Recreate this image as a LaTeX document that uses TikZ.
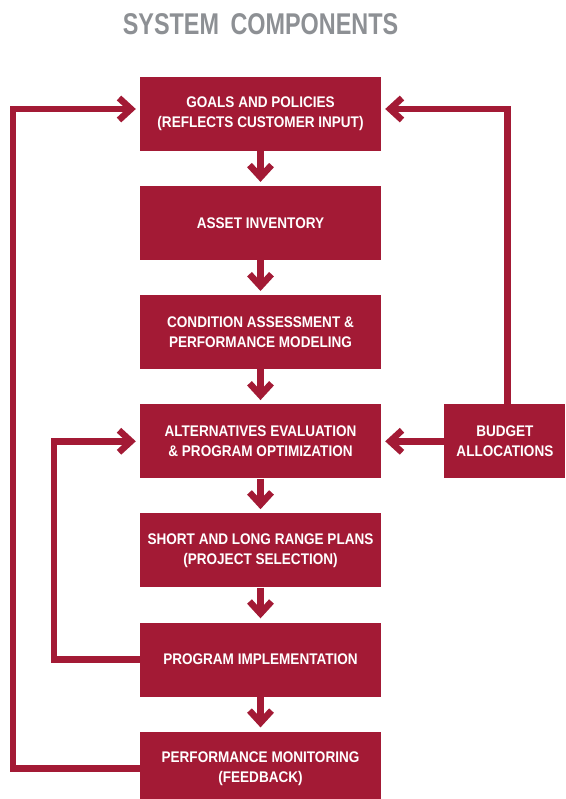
\documentclass[tikz,border=0pt]{standalone}
\usepackage{fontspec}
\usepackage[dvipsnames]{xcolor}
\usetikzlibrary{positioning,arrows.meta}

\newfontfamily\boxfont[FakeStretch=0.88]{Liberation Sans}
\newfontfamily\titlefont[FakeStretch=0.78]{Liberation Sans}
\definecolor{crimson}{HTML}{A31A35}
\definecolor{titlegray}{HTML}{8D9094}

\begin{document}
\begin{tikzpicture}[x=1pt,y=1pt,>={Straight Barb[length=12pt,width=22pt]},node distance=34.7pt,
    comp node/.style={fill=crimson,text=white,minimum width=241pt,minimum height=74pt,inner sep=0pt,align=center,font=\boxfont\bfseries\fontsize{15.4}{20}\selectfont},
    flow/.style={->,draw=crimson,line width=6.5pt,shorten >=4pt}]
            \fill[white] (0,0) rectangle (565,-799);
            \useasboundingbox (0,0) rectangle (565,-799);

            \node[text=titlegray,anchor=base,font=\titlefont\bfseries\fontsize{30}{30}\selectfont] (title) at (260.5,-34.3) {SYSTEM\hspace{5pt} COMPONENTS};

            \node[comp node] (goals) at (260.5,-114) {GOALS AND POLICIES\\(REFLECTS CUSTOMER INPUT)};
            \node[comp node] (inventory) [below=of goals] {ASSET INVENTORY};
            \node[comp node] (condition) [below=of inventory] {CONDITION ASSESSMENT \&\\PERFORMANCE MODELING};
            \node[comp node] (alternatives) [below=of condition] {ALTERNATIVES EVALUATION\\\& PROGRAM OPTIMIZATION};
            \node[comp node] (plans) [below=of alternatives] {SHORT AND LONG RANGE PLANS\\(PROJECT SELECTION)};
            \node[comp node] (implementation) [below=of plans] {PROGRAM IMPLEMENTATION};
            \node[comp node] (monitoring) [below=of implementation] {PERFORMANCE MONITORING\\(FEEDBACK)};
            \node[comp node, minimum width=121pt] (budget) [right=63pt of alternatives] {BUDGET\\ALLOCATIONS};

            % feedback loops enter a bit above the centre of the goals box
            \coordinate (outer) at (13,0);
            \coordinate (inner) at (54,0);
            \coordinate (goals in) at ([yshift=5pt]goals.west);
            \coordinate (goals out) at ([yshift=5pt]goals.east);

            \path[flow]
                (goals) edge (inventory)
                (inventory) edge (condition)
                (condition) edge (alternatives)
                (alternatives) edge (plans)
                (plans) edge (implementation)
                (implementation) edge (monitoring)
                (budget) edge (alternatives)
                ;

            \draw[flow] (monitoring.west) -- (monitoring.west -| outer) |- (goals in);
            \draw[flow] (implementation.west) -- (implementation.west -| inner) |- (alternatives.west);
            \draw[flow] ([xshift=2.5pt]budget.north) |- (goals out);
        \end{tikzpicture}
\end{document}
